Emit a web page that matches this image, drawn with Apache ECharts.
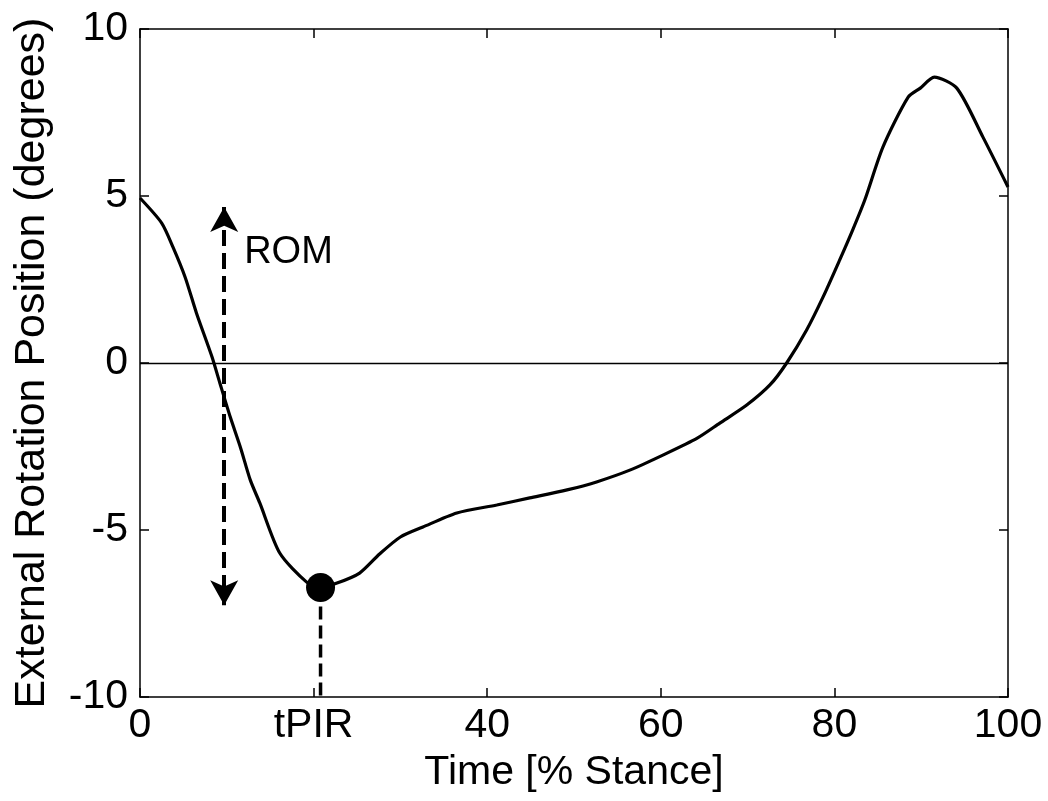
<!DOCTYPE html>
<html>
<head>
<meta charset="utf-8">
<script src="https://cdn.jsdelivr.net/npm/echarts@6/dist/echarts.min.js"></script>
<style>
  html, body { margin: 0; padding: 0; background: #fff; }
  #chart { width: 1048px; height: 801px; }
</style>
</head>
<body>
<div id="chart"></div>
<script>
// curve (x = % stance, y = degrees)
var timePct = [0, 2.5, 3.8, 5.2, 6.5, 8.3, 9.2, 10.4, 11.6, 12.7, 13.8, 16.1, 19.2, 20.8, 22.7, 25.3, 27.6, 30.0, 32.6, 36.5,
  41.1, 44.9, 49.2, 52.6, 56.5, 60.3, 64.2, 66.8, 69.9, 72.6, 74.5, 76.8, 78.7, 80.6, 82.1, 83.5, 85.6, 88.5, 89.9,
  91.5, 94.1, 97.1, 100];
var rotation = [4.94, 4.19, 3.47, 2.57, 1.50, 0.18, -0.60, -1.62, -2.55, -3.50, -4.19, -5.69, -6.56, -6.72, -6.59, -6.29,
  -5.72, -5.21, -4.91, -4.49, -4.25, -4.04, -3.80, -3.56, -3.20, -2.75, -2.25, -1.80, -1.26, -0.65, 0.0, 0.99, 1.98,
  3.08, 3.98, 4.88, 6.47, 7.96, 8.23, 8.56, 8.23, 6.77, 5.27];

var tPIR = 20.8;      // time of peak internal rotation
var minRot = -6.72;   // value at tPIR
var romX = 9.7;       // ROM arrow
var romTop = 4.67;
var romBottom = -7.25;
var romLabel = [12.0, 3.32];

var font = 'Liberation Sans, Arial, sans-serif';
var fs = 41;

function boxAxis(extra) {
  var a = {
    type: 'value',
    axisLine: { show: true, onZero: false, lineStyle: { color: '#000', width: 1.5 } },
    axisTick: { show: true, inside: true, length: 9, lineStyle: { color: '#000', width: 1.5 } },
    splitLine: { show: false }
  };
  for (var k in extra) a[k] = extra[k];
  return a;
}

var chart = echarts.init(document.getElementById('chart'));
chart.setOption({
  animation: false,
  backgroundColor: '#fff',
  grid: { left: 140, right: 40, top: 29, bottom: 104 },
  xAxis: [
    boxAxis({
      position: 'bottom', min: 0, max: 100, interval: 20,
      name: 'Time [% Stance]', nameLocation: 'middle', nameGap: 55,
      nameTextStyle: { color: '#000', fontSize: fs, fontFamily: font },
      axisLabel: {
        color: '#000', fontSize: fs, fontFamily: font, margin: 8,
        formatter: function (v) { return v === 20 ? 'tPIR' : v; }
      }
    }),
    boxAxis({ position: 'top', min: 0, max: 100, interval: 20, axisLabel: { show: false } })
  ],
  yAxis: [
    boxAxis({
      position: 'left', min: -10, max: 10, interval: 5,
      name: 'External Rotation Position (degrees)', nameLocation: 'middle', nameGap: 86,
      nameTextStyle: { color: '#000', fontSize: 43, fontFamily: font },
      axisLabel: { color: '#000', fontSize: fs, fontFamily: font, margin: 12 }
    }),
    boxAxis({ position: 'right', min: -10, max: 10, interval: 5, axisLabel: { show: false } })
  ],
  series: [
    {
      // curve + zero line
      type: 'line',
      data: curve(),
      symbol: 'none',
      smooth: 0.25,
      lineStyle: { color: '#000', width: 3.2 },
      z: 5,
      markLine: {
        silent: true,
        symbol: 'none',
        label: { show: false },
        lineStyle: { color: '#000', width: 1.3, type: 'solid' },
        data: [{ yAxis: 0 }]
      }
    },
    {
      // dashed drop line from the minimum
      type: 'line',
      data: [[tPIR, minRot], [tPIR, -10]],
      symbol: 'none',
      lineStyle: { color: '#000', width: 3.5, type: [13, 6] },
      z: 4
    },
    {
      // ROM arrow
      type: 'line',
      data: [],
      markLine: {
        silent: true,
        symbol: ['arrow', 'arrow'],
        symbolSize: [21, 25],
        label: { show: false },
        lineStyle: { color: '#000', width: 4, type: [16, 7] },
        data: [[{ coord: [romX, romTop] }, { coord: [romX, romBottom] }]]
      }
    },
    {
      // minimum marker
      type: 'scatter',
      data: [[tPIR, minRot]],
      symbol: 'circle',
      symbolSize: 29,
      itemStyle: { color: '#000', opacity: 1 },
      z: 6
    },
    {
      // ROM label
      type: 'scatter',
      data: [romLabel],
      symbolSize: 0,
      itemStyle: { opacity: 1 },
      label: {
        show: true, position: 'right', distance: 0, formatter: 'ROM',
        color: '#000', opacity: 1, fontSize: 38, fontFamily: font
      }
    }
  ]
});

function curve() {
  return timePct.map(function (t, i) { return [t, rotation[i]]; });
}
</script>
</body>
</html>
